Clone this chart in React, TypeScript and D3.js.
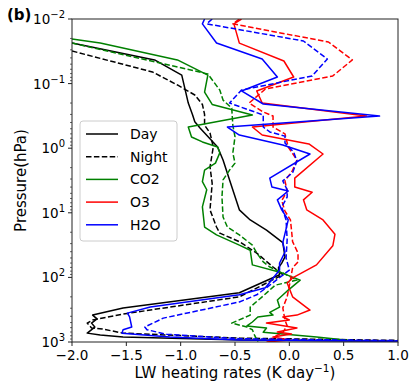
import React from "react";
import * as d3 from "d3";

// [pressure (hPa), heating rate (K/day)]
const dayTotal: [number, number][] = [
  [0.0236, -2.0], [0.043, -1.24], [0.074, -0.99], [0.2, -0.93], [0.306, -0.89],
  [0.39, -0.87], [0.49, -0.82], [0.96, -0.66], [1.52, -0.61], [3.1, -0.55],
  [9.0, -0.46], [12.9, -0.36], [18.5, -0.21], [29, -0.06], [48, -0.04],
  [60, -0.07], [71, -0.1], [91, -0.09], [173, -0.46], [297, -1.53],
  [383, -1.81], [439, -1.77], [510, -1.82], [587, -1.79], [729, -1.86],
  [782, -1.74], [835, -1.53], [930, -0.45], [1000, 2.0],
];
const nightTotal: [number, number][] = [
  [0.0313, -2.0], [0.066, -1.26], [0.105, -1.03], [0.15, -0.87], [0.21, -0.8],
  [0.3, -0.78], [0.44, -0.78], [0.58, -0.73], [0.96, -0.7], [1.95, -0.73],
  [3.5, -0.71], [9.0, -0.73], [16.6, -0.67], [20.6, -0.64], [28, -0.46],
  [42, -0.3], [69, -0.15], [91, -0.06], [200, -0.46], [369, -1.53],
  [457, -1.81], [510, -1.86], [606, -1.82], [630, -1.72], [729, -1.53],
  [870, -0.46], [1000, 2.0],
];
const co2Day: [number, number][] = [
  [0.0204, -2.0], [0.0236, -1.74], [0.043, -1.03], [0.074, -0.75], [0.135, -0.78],
  [0.21, -0.71], [0.306, -0.34], [0.47, -0.93], [0.67, -0.9], [0.8, -0.8],
  [0.96, -0.66], [1.18, -0.64], [1.7, -0.68], [2.18, -0.78], [3.3, -0.8],
  [4.4, -0.76], [8.1, -0.8], [16.6, -0.78], [22, -0.67], [31.6, -0.46],
  [38, -0.36], [64, -0.34], [85, -0.07], [110, 0.1], [157, -0.01],
  [224, -0.11], [288, -0.09], [347, -0.18], [383, -0.15], [410, -0.29],
  [490, -0.34], [563, -0.39], [606, -0.21], [708, -0.24], [835, 0.25],
  [960, 0.58],
];
const co2Night: [number, number][] = [
  [0.0236, -2.0], [0.048, -1.19], [0.071, -0.75], [0.126, -0.64], [0.18, -0.61],
  [0.24, -0.53], [0.44, -0.52], [0.67, -0.5], [1.18, -0.52], [1.7, -0.5],
  [2.18, -0.55], [3.1, -0.61], [5.7, -0.62], [11.6, -0.61], [16.6, -0.57],
  [22, -0.46], [31.6, -0.34], [42, -0.3], [57.6, -0.24], [69, -0.18],
  [85, -0.06], [110, 0.07], [132, -0.13], [200, -0.25], [288, -0.36],
  [383, -0.36], [510, -0.53], [587, -0.39], [646, -0.34], [782, -0.32],
  [1000, -0.29],
];
const o3Day: [number, number][] = [
  [0.01, -0.44], [0.0119, -0.51], [0.0236, -0.46], [0.0447, -0.05], [0.079, 0.04],
  [0.13, -0.3], [0.2, -0.25], [0.318, 0.71], [0.47, -0.34], [0.625, -0.25],
  [0.86, 0.18], [1.23, 0.31], [2.9, 0.05], [4.0, 0.05], [4.8, 0.21],
  [6.3, 0.13], [9.0, 0.16], [12.9, 0.31], [21.4, 0.42], [32.4, 0.4],
  [64, 0.25], [102, 0.03], [122, -0.02], [200, 0.03], [320, 0.19],
  [383, 0.07], [410, -0.06], [457, 0.0], [510, -0.21], [606, 0.07],
  [700, -0.11], [752, 0.02], [835, -0.15], [930, 0.0], [1000, -0.21],
];
const o3Night: [number, number][] = [
  [0.01, -0.46], [0.0119, -0.52], [0.0227, 0.36], [0.043, 0.58], [0.076, 0.4],
  [0.121, -0.22], [0.2, -0.37], [0.275, -0.24], [0.318, -0.15], [0.47, -0.15],
  [0.6, -0.04], [0.96, -0.01], [1.52, 0.07], [2.2, 0.03], [3.2, -0.04],
  [4.6, -0.02], [6.5, -0.07], [9.4, -0.04], [12.9, 0.01], [18.5, 0.02],
  [28, 0.03], [42, 0.08], [57.6, 0.08], [71, 0.03], [110, 0.01],
  [200, -0.02], [297, -0.06], [457, -0.04], [563, -0.02], [708, -0.06],
  [782, -0.11], [1000, -0.2],
];
const h2oDay: [number, number][] = [
  [0.01, -0.78], [0.0119, -0.8], [0.0235, -0.67], [0.0416, -0.25], [0.079, -0.11],
  [0.13, -0.44], [0.207, -0.24], [0.318, 0.83], [0.47, -0.57], [0.625, -0.46],
  [0.89, -0.06], [1.23, 0.19], [2.9, -0.18], [4.0, -0.16], [4.6, -0.01],
  [6.3, -0.11], [9.0, -0.07], [12.9, -0.01], [29, -0.06], [40.4, -0.04],
  [60, -0.09], [77, -0.09], [145, -0.22], [186, -0.46], [288, -1.28],
  [357, -1.49], [410, -1.47], [587, -1.45], [646, -1.53], [729, -1.54],
  [835, -1.1], [930, -0.46], [1000, 2.0],
];
const h2oNight: [number, number][] = [
  [0.01, -0.71], [0.0119, -0.76], [0.0219, 0.13], [0.0416, 0.35], [0.076, 0.21],
  [0.126, -0.44], [0.2, -0.55], [0.306, -0.24], [0.47, -0.24], [0.56, -0.18],
  [0.65, -0.04], [0.83, -0.04], [1.15, 0.04], [1.58, 0.07], [2.4, 0.03],
  [3.2, -0.06], [4.4, -0.02], [5.7, -0.02], [8.1, -0.07], [12.9, -0.03],
  [26, -0.02], [50, -0.03], [77, 0.0], [132, -0.18], [186, -0.3],
  [240, -0.46], [427, -1.16], [587, -1.33], [646, -1.31], [759, -1.13],
  [890, -0.46], [1000, 2.0],
];

const xTicks = [-2.0, -1.5, -1.0, -0.5, 0.0, 0.5, 1.0];
const yExponents = [-2, -1, 0, 1, 2, 3];

const legendItems = [
  { label: "Day", color: "black", dash: false },
  { label: "Night", color: "black", dash: true },
  { label: "CO2", color: "green", dash: false },
  { label: "O3", color: "red", dash: false },
  { label: "H2O", color: "blue", dash: false },
];

const series = [
  { data: dayTotal, color: "black", dash: false },
  { data: nightTotal, color: "black", dash: true },
  { data: co2Day, color: "green", dash: false },
  { data: co2Night, color: "green", dash: true },
  { data: o3Day, color: "red", dash: false },
  { data: o3Night, color: "red", dash: true },
  { data: h2oDay, color: "blue", dash: false },
  { data: h2oNight, color: "blue", dash: true },
];

const W = 416;
const H = 392;
const M = { left: 72, right: 398, top: 19, bottom: 342 };
const FONT = "DejaVu Sans, sans-serif";
const DASH = "5.5,2.4";

const App = () => {
  const x = d3.scaleLinear().domain([-2, 1]).range([M.left, M.right]);
  const y = d3.scaleLog().domain([0.01, 1000]).range([M.top, M.bottom]);
  const line = d3
    .line<[number, number]>()
    .x((d) => x(d[1]))
    .y((d) => y(d[0]));

  const minor: number[] = [];
  for (let e = -2; e < 3; e++) {
    for (let k = 2; k <= 9; k++) minor.push(k * Math.pow(10, e));
  }

  return (
    <svg
      width={W}
      height={H}
      style={{ position: "absolute", left: 0, top: 0, background: "white" }}
      fontFamily={FONT}
    >
      <defs>
        <clipPath id="plot">
          <rect x={M.left} y={M.top} width={M.right - M.left} height={M.bottom - M.top} />
        </clipPath>
      </defs>

      <g clipPath="url(#plot)">
        {series.map((s, i) => (
          <path
            key={i}
            d={line(s.data) || ""}
            fill="none"
            stroke={s.color}
            strokeWidth={1.5}
            strokeDasharray={s.dash ? DASH : undefined}
            strokeLinejoin="round"
          />
        ))}
      </g>

      <rect
        x={M.left}
        y={M.top}
        width={M.right - M.left}
        height={M.bottom - M.top}
        fill="none"
        stroke="#222"
        strokeWidth={1}
      />

      {/* x axis */}
      {xTicks.map((t) => (
        <g key={t}>
          <line x1={x(t)} x2={x(t)} y1={M.bottom} y2={M.bottom + 4} stroke="#222" />
          <text x={x(t)} y={M.bottom + 18} fontSize={13.5} textAnchor="middle" fill="black">
            {t < 0 ? "\u2212" + Math.abs(t).toFixed(1) : t.toFixed(1)}
          </text>
        </g>
      ))}
      <text x={235} y={378} fontSize={15} textAnchor="middle" fill="black">
        LW heating rates (K day
        <tspan dy={-6} fontSize={10.5}>{"\u22121"}</tspan>
        <tspan dy={6}>)</tspan>
      </text>

      {/* y axis */}
      {minor.map((m, i) => (
        <line key={i} x1={M.left - 2} x2={M.left} y1={y(m)} y2={y(m)} stroke="#222" strokeWidth={0.7} />
      ))}
      {yExponents.map((e) => (
        <g key={e}>
          <line x1={M.left - 4} x2={M.left} y1={y(Math.pow(10, e))} y2={y(Math.pow(10, e))} stroke="#222" />
          <text x={M.left - 7} y={y(Math.pow(10, e)) + 5} fontSize={13.5} textAnchor="end" fill="black">
            10
            <tspan dy={-6} fontSize={10}>{e < 0 ? "\u2212" + Math.abs(e) : String(e)}</tspan>
          </text>
        </g>
      ))}
      <text
        transform={`translate(26,${(M.top + M.bottom) / 2}) rotate(-90)`}
        fontSize={15}
        textAnchor="middle"
        fill="black"
      >
        Pressure(hPa)
      </text>

      <text x={7} y={20} fontSize={15} fontWeight="bold" fill="black">
        (b)
      </text>

      {/* legend */}
      <rect x={80} y={121} width={97} height={120} rx={3} fill="white" fillOpacity={0.8} stroke="#ccc" />
      {legendItems.map((l, i) => {
        const ly = 134 + i * 22.7;
        return (
          <g key={l.label}>
            <line
              x1={86}
              x2={118}
              y1={ly}
              y2={ly}
              stroke={l.color}
              strokeWidth={1.5}
              strokeDasharray={l.dash ? DASH : undefined}
            />
            <text x={130} y={ly + 5} fontSize={14} fill="black">
              {l.label}
            </text>
          </g>
        );
      })}
    </svg>
  );
};

export default App;
